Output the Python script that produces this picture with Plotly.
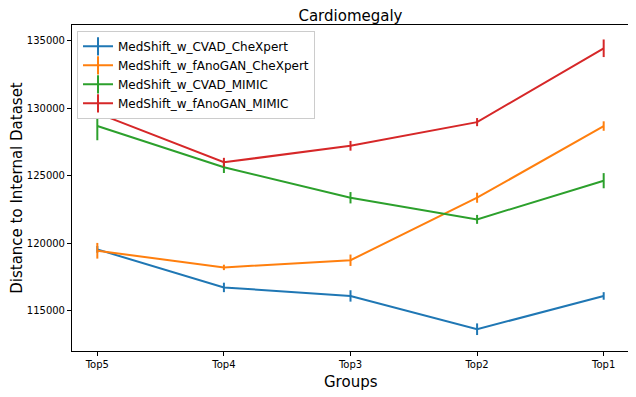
import plotly.graph_objects as go

groups = ['Top5', 'Top4', 'Top3', 'Top2', 'Top1']

series_names = [
    'MedShift_w_CVAD_CheXpert',
    'MedShift_w_fAnoGAN_CheXpert',
    'MedShift_w_CVAD_MIMIC',
    'MedShift_w_fAnoGAN_MIMIC',
]

cvad_chexpert = [119550, 116740, 116110, 113650, 116110]
cvad_chexpert_err = [250, 350, 420, 430, 280]

fanogan_chexpert = [119450, 118220, 118750, 123370, 128670]
fanogan_chexpert_err = [580, 200, 420, 370, 350]

cvad_mimic = [128670, 125620, 123370, 121770, 124630]
cvad_mimic_err = [1050, 420, 420, 330, 560]

fanogan_mimic = [129630, 125990, 127210, 128960, 134420]
fanogan_mimic_err = [330, 330, 360, 300, 650]

colors = ['#1f77b4', '#ff7f0e', '#2ca02c', '#d62728']

values = [cvad_chexpert, fanogan_chexpert, cvad_mimic, fanogan_mimic]
errors = [cvad_chexpert_err, fanogan_chexpert_err, cvad_mimic_err, fanogan_mimic_err]

FONT = 'DejaVu Sans'

fig = go.Figure()

for name, y, err, color in zip(series_names, values, errors, colors):
    fig.add_trace(go.Scatter(
        x=list(range(len(groups))), y=y, mode='lines', name=name,
        line=dict(color=color, width=2),
        error_y=dict(type='data', array=err, visible=True, color=color, thickness=2, width=0),
        showlegend=False,
    ))

# legend-only entries that look like matplotlib errorbar handles
for name, color in zip(series_names, colors):
    fig.add_trace(go.Scatter(
        x=[None], y=[None], mode='lines+markers', name=name,
        line=dict(color=color, width=2),
        marker=dict(symbol='line-ns-open', size=13, line=dict(color=color, width=2)),
    ))

axis_common = dict(
    showline=True, linecolor='black', linewidth=1, mirror=True,
    ticks='outside', ticklen=4, tickcolor='black', tickwidth=1,
    showgrid=False, zeroline=False, automargin=False,
    tickfont=dict(family=FONT, size=10, color='black'),
)

# the page body adds an 8px offset, margins make up for it
fig.update_layout(
    width=636, height=397,
    margin=dict(l=64, r=15, t=17, b=54),
    plot_bgcolor='white', paper_bgcolor='white',
    font=dict(family=FONT, color='black'),
    title=dict(text='Cardiomegaly', x=0.5385, xanchor='center', y=0.993, yanchor='top',
               font=dict(family=FONT, size=15, color='black')),
    xaxis=dict(
        tickmode='array', tickvals=list(range(len(groups))), ticktext=groups,
        range=[-0.2, 4.2],
        **axis_common,
    ),
    yaxis=dict(
        range=[112040, 136140],
        tickvals=[115000, 120000, 125000, 130000, 135000],
        tickformat='d',
        title=dict(text='Distance to Internal Dataset', font=dict(family=FONT, size=15, color='black'), standoff=11),
        **axis_common,
    ),
    legend=dict(
        x=0.009, y=0.982, xanchor='left', yanchor='top',
        bgcolor='white', bordercolor='#cccccc', borderwidth=1,
        font=dict(family=FONT, size=12, color='black'),
        itemwidth=30, tracegroupgap=0,
    ),
)

# x axis title as an annotation so it sits where matplotlib put it
fig.add_annotation(
    text='Groups', xref='paper', yref='paper', x=0.5, y=0,
    xanchor='center', yanchor='middle', yshift=-31, showarrow=False,
    font=dict(family=FONT, size=15, color='black'),
)

fig.write_html('out.html')
